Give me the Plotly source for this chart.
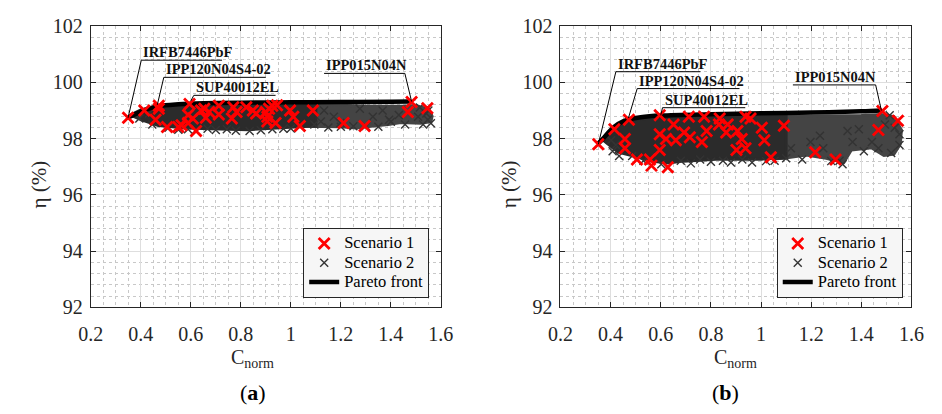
import plotly.graph_objects as go

# ---------------- data ----------------
# Scenario 1 (red crosses)
scen1_a_x = [0.349,0.414,0.459,0.472,0.472,0.505,0.55,0.563,0.589,0.595,0.589,0.621,0.608,0.641,0.66,
             0.654,0.673,0.712,0.712,0.764,0.77,0.783,0.822,0.848,0.861,0.9,0.906,0.906,0.913,0.926,
             0.945,0.939,0.997,1.01,1.036,1.088,1.211,1.295,1.468,1.483,1.546]
scen1_a_y = [98.74,99.00,98.67,99.17,99.06,98.41,98.41,98.48,98.84,99.23,98.56,98.27,98.72,99.00,98.74,
             99.06,98.95,99.17,98.86,98.72,99.12,98.95,99.12,99.00,98.89,98.95,98.78,98.61,99.06,99.17,
             99.19,98.56,99.00,98.78,98.45,99.00,98.56,98.45,98.95,99.30,99.08]
scen1_b_x = [0.351,0.415,0.457,0.457,0.473,0.505,0.557,0.563,0.596,0.596,0.596,0.628,0.621,0.651,0.660,
             0.693,0.716,0.712,0.764,0.773,0.783,0.835,0.832,0.861,0.867,0.902,0.906,0.923,0.938,0.938,
             0.958,1.003,1.013,1.039,1.091,1.216,1.297,1.468,1.484,1.546]
scen1_b_y = [97.80,98.33,97.99,97.66,98.67,97.26,97.26,97.04,98.83,98.16,97.60,96.98,97.99,98.50,97.94,
             98.22,98.05,98.78,97.88,98.78,98.27,98.72,98.50,98.22,98.50,97.60,98.27,97.99,97.66,98.78,
             98.72,98.39,97.94,97.34,98.46,97.52,97.26,98.31,98.98,98.64]

# Scenario 2: outlines of the dense and the sparser part of the mass of crosses,
# plus individually visible crosses
scen2_dense_a_x = [0.36,0.40,0.45,0.50,0.60,0.80,1.00,1.10,
                   1.10,1.07,0.94,0.83,0.68,0.58,0.47,0.40,0.365]
scen2_dense_a_y = [98.85,99.02,99.13,99.18,99.22,99.24,99.25,99.23,
                   98.44,98.44,98.38,98.32,98.35,98.38,98.47,98.68,98.82]
scen2_sparse_a_x = [1.05,1.30,1.45,1.50,1.55,1.565,
                    1.56,1.52,1.44,1.39,1.33,1.26,1.20,1.05]
scen2_sparse_a_y = [99.24,99.15,99.15,99.18,99.05,98.80,
                    98.60,98.55,98.57,98.50,98.45,98.38,98.42,98.44]
scen2_pts_a_x = [1.133,1.172,1.198,1.12,1.276,1.328,1.367,1.393,1.432,1.509,1.548,1.542,1.516,1.529,
                 1.457,1.25,1.094,0.394,0.446,0.511,0.589,0.667,0.744,0.835,0.926,0.433,1.56,1.55,
                 1.0,1.3,1.4,1.2,0.55,0.62,0.70,0.78,0.88,0.97,1.15,1.35]
scen2_pts_a_y = [99.0,98.78,98.56,98.61,99.06,98.78,99.0,98.67,98.84,98.78,98.67,98.89,99.11,98.5,
                 98.5,98.44,98.5,98.72,98.5,98.39,98.33,98.35,98.33,98.27,98.33,98.89,98.55,99.0,
                 98.36,98.45,98.6,98.42,98.32,98.30,98.31,98.28,98.30,98.35,98.40,98.42]

scen2_dense_b_x = [0.37,0.40,0.44,0.50,0.60,0.80,1.00,1.10,
                   1.10,1.00,0.82,0.69,0.63,0.56,0.50,0.43,0.405,0.38]
scen2_dense_b_y = [97.95,98.15,98.50,98.68,98.76,98.81,98.83,98.82,
                   97.32,97.27,97.27,97.20,97.13,97.20,97.36,97.52,97.70,97.90]
scen2_sparse_b_x = [1.05,1.20,1.40,1.48,1.53,1.56,1.555,
                    1.53,1.49,1.44,1.36,1.33,1.26,1.18,1.09,1.05]
scen2_sparse_b_y = [98.83,98.80,98.82,98.86,98.78,98.30,97.80,
                    97.45,97.40,97.68,97.60,97.15,97.30,97.42,97.30,97.28]
scen2_pts_b_x = [0.964,1.164,1.313,1.325,1.519,1.552,1.552,1.533,1.494,1.513,1.442,1.468,1.365,1.39,
                 1.345,1.235,1.248,1.197,1.119,1.054,0.408,0.434,0.486,0.531,0.602,0.68,0.757,0.848,
                 0.925,0.421,0.402,0.72,0.80,0.88,1.02,1.10,1.28,1.41]
scen2_pts_b_y = [97.15,97.26,97.21,97.09,97.49,97.77,98.16,98.39,98.5,98.83,97.88,97.66,97.88,98.33,
                 98.27,98.1,97.66,97.88,97.66,97.21,97.55,97.38,97.38,97.21,97.09,97.21,97.26,97.21,
                 97.26,97.77,97.94,97.12,97.18,97.15,97.20,97.30,97.20,97.55]

# Pareto fronts
pareto_a_x = [0.35,0.38,0.42,0.47,0.55,0.65,0.80,1.00,1.20,1.40,1.48]
pareto_a_y = [98.75,98.88,99.03,99.15,99.22,99.26,99.28,99.29,99.30,99.31,99.32]
pareto_b_x = [0.35,0.37,0.40,0.43,0.47,0.52,0.60,0.80,1.00,1.20,1.40,1.48]
pareto_b_y = [97.82,98.00,98.30,98.52,98.68,98.76,98.82,98.87,98.90,98.93,98.97,99.00]

# Device labels and the points they point to
device_names = ["IRFB7446PbF", "IPP120N04S4-02", "SUP40012EL", "IPP015N04N"]
device_pt_a_x = [0.349, 0.466, 0.600, 1.483]
device_pt_a_y = [98.74, 99.20, 99.34, 99.32]
device_pt_b_x = [0.351, 0.471, 0.600, 1.480]
device_pt_b_y = [97.80, 98.73, 98.83, 99.00]

series_names = ["Scenario 1", "Scenario 2", "Pareto front"]

x_ticks = [0.2, 0.4, 0.6, 0.8, 1.0, 1.2, 1.4, 1.6]
x_tick_text = ["0.2", "0.4", "0.6", "0.8", "1", "1.2", "1.4", "1.6"]
y_ticks = [92, 94, 96, 98, 100, 102]

# ---------------- layout helpers (label boxes: underline y, x-start, x-end, leader attaches at 'l'/'r') ----
label_layout_a = [(100.79, 0.402, 0.725, 'l'), (100.18, 0.492, 0.900, 'l'),
                  (99.54, 0.612, 0.939, 'l'), (100.32, 1.133, 1.456, 'r')]
label_layout_b = [(100.38, 0.421, 0.758, 'l'), (99.78, 0.506, 0.914, 'l'),
                  (99.10, 0.607, 0.937, 'l'), (99.91, 1.127, 1.457, 'r')]

W, H = 942, 414
FONT = "Liberation Serif"
AX = "#262626"

def leg_name(s):
    return '<span style="font-size:16.5px">' + s + '</span>'

fig = go.Figure()

def add_region(xa, ya, ex, ey, color):
    fig.add_trace(go.Scatter(x=ex + ex[:1], y=ey + ey[:1], mode="lines", fill="toself",
                             fillcolor=color, line=dict(color=color, width=3),
                             hoverinfo="skip", showlegend=False, xaxis=xa, yaxis=ya))

def add_panel(xa, ya, legend, dense, sparse, pts_x, pts_y, s1x, s1y, px, py):
    add_region(xa, ya, sparse[0], sparse[1], "#444444")
    add_region(xa, ya, dense[0], dense[1], "#2b2b2b")
    fig.add_trace(go.Scatter(x=pts_x, y=pts_y, mode="markers", name=leg_name(series_names[1]),
                             marker=dict(symbol="x-thin", size=8, line=dict(color="#333333", width=1.4)),
                             legend=legend, legendrank=2, xaxis=xa, yaxis=ya))
    fig.add_trace(go.Scatter(x=px, y=py, mode="lines", name=leg_name(series_names[2]),
                             line=dict(color="black", width=4.5, shape="spline"),
                             legend=legend, legendrank=3, xaxis=xa, yaxis=ya))
    fig.add_trace(go.Scatter(x=s1x, y=s1y, mode="markers", name=leg_name(series_names[0]),
                             marker=dict(symbol="x-thin", size=11, line=dict(color="#ff0000", width=2.8)),
                             legend=legend, legendrank=1, xaxis=xa, yaxis=ya))

add_panel("x", "y", "legend", (scen2_dense_a_x, scen2_dense_a_y), (scen2_sparse_a_x, scen2_sparse_a_y),
          scen2_pts_a_x, scen2_pts_a_y, scen1_a_x, scen1_a_y, pareto_a_x, pareto_a_y)
add_panel("x2", "y2", "legend2", (scen2_dense_b_x, scen2_dense_b_y), (scen2_sparse_b_x, scen2_sparse_b_y),
          scen2_pts_b_x, scen2_pts_b_y, scen1_b_x, scen1_b_y, pareto_b_x, pareto_b_y)

def add_labels(xref, yref, layout_list, ptx, pty):
    for name, (uy, x0, x1, side), tx, ty in zip(device_names, layout_list, ptx, pty):
        fig.add_shape(type="line", xref=xref, yref=yref, x0=x0, x1=x1, y0=uy, y1=uy,
                      line=dict(color="black", width=1))
        sx = x0 if side == 'l' else x1
        fig.add_shape(type="line", xref=xref, yref=yref, x0=sx, x1=tx, y0=uy, y1=ty,
                      line=dict(color="black", width=1))
        fig.add_annotation(xref=xref, yref=yref, x=x0, y=uy, text="<b>" + name + "</b>",
                           showarrow=False, xanchor="left", yanchor="bottom", yshift=-2,
                           font=dict(family=FONT, size=14.5, color="#111111"))

add_labels("x", "y", label_layout_a, device_pt_a_x, device_pt_a_y)
add_labels("x2", "y2", label_layout_b, device_pt_b_x, device_pt_b_y)

def axis_common(domain, ticks, texts, rng, minor_dtick, standoff):
    return dict(domain=domain, range=rng, tickvals=ticks, ticktext=texts,
                showline=True, linecolor=AX, linewidth=1, mirror="allticks",
                ticks="inside", ticklen=5, tickcolor=AX, ticklabelstandoff=standoff,
                showgrid=True, gridcolor="#dedede", gridwidth=1, zeroline=False,
                tickfont=dict(family=FONT, size=20, color=AX),
                minor=dict(dtick=minor_dtick, showgrid=True, gridcolor="#c8c8c8",
                           griddash="dot", gridwidth=1, ticks=""))

legend_style = dict(xanchor="right", yanchor="bottom",
                    bgcolor="#f6f6f6", bordercolor=AX, borderwidth=1,
                    font=dict(family=FONT, size=12.5, color="black"), tracegroupgap=0,
                    itemwidth=30)

ydom = [1 - 313 / H, 1 - 16 / H]
fig.update_layout(
    width=W, height=H, margin=dict(l=0, r=0, t=0, b=0),
    paper_bgcolor="white", plot_bgcolor="white",
    xaxis=axis_common([80 / W, 440 / W], x_ticks, x_tick_text, [0.2, 1.6], 0.05, 9),
    yaxis=axis_common(ydom, y_ticks, [str(v) for v in y_ticks], [92, 102], 0.4, 3),
    xaxis2=axis_common([563 / W, 924 / W], x_ticks, x_tick_text, [0.2, 1.6], 0.05, 9),
    yaxis2=axis_common(ydom, y_ticks, [str(v) for v in y_ticks], [92, 102], 0.4, 3),
    legend=dict(x=428 / W, y=1 - 303 / H, **legend_style),
    legend2=dict(x=915 / W, y=1 - 303 / H, **legend_style),
    showlegend=True,
)
fig.layout.xaxis2.anchor = "y2"
fig.layout.yaxis2.anchor = "x2"

# axis titles and panel captions
for cx, lx in [(246, 27), (743, 510)]:
    fig.add_annotation(xref="paper", yref="paper", x=cx / W, y=1 - 367 / H, text="C<sub>norm</sub>",
                       showarrow=False, xanchor="center", yanchor="middle",
                       font=dict(family=FONT, size=20, color=AX))
    fig.add_annotation(xref="paper", yref="paper", x=lx / W, y=1 - 183 / H, text="η (%)",
                       showarrow=False, xanchor="center", yanchor="middle", textangle=-90,
                       font=dict(family=FONT, size=21, color=AX))
for cx, t in [(247, "(<b>a</b>)"), (733, "(<b>b</b>)")]:
    fig.add_annotation(xref="paper", yref="paper", x=cx / W, y=1 - 403 / H, text=t,
                       showarrow=False, xanchor="center", yanchor="middle",
                       font=dict(family=FONT, size=22, color="black"))

fig.write_html("out.html")
